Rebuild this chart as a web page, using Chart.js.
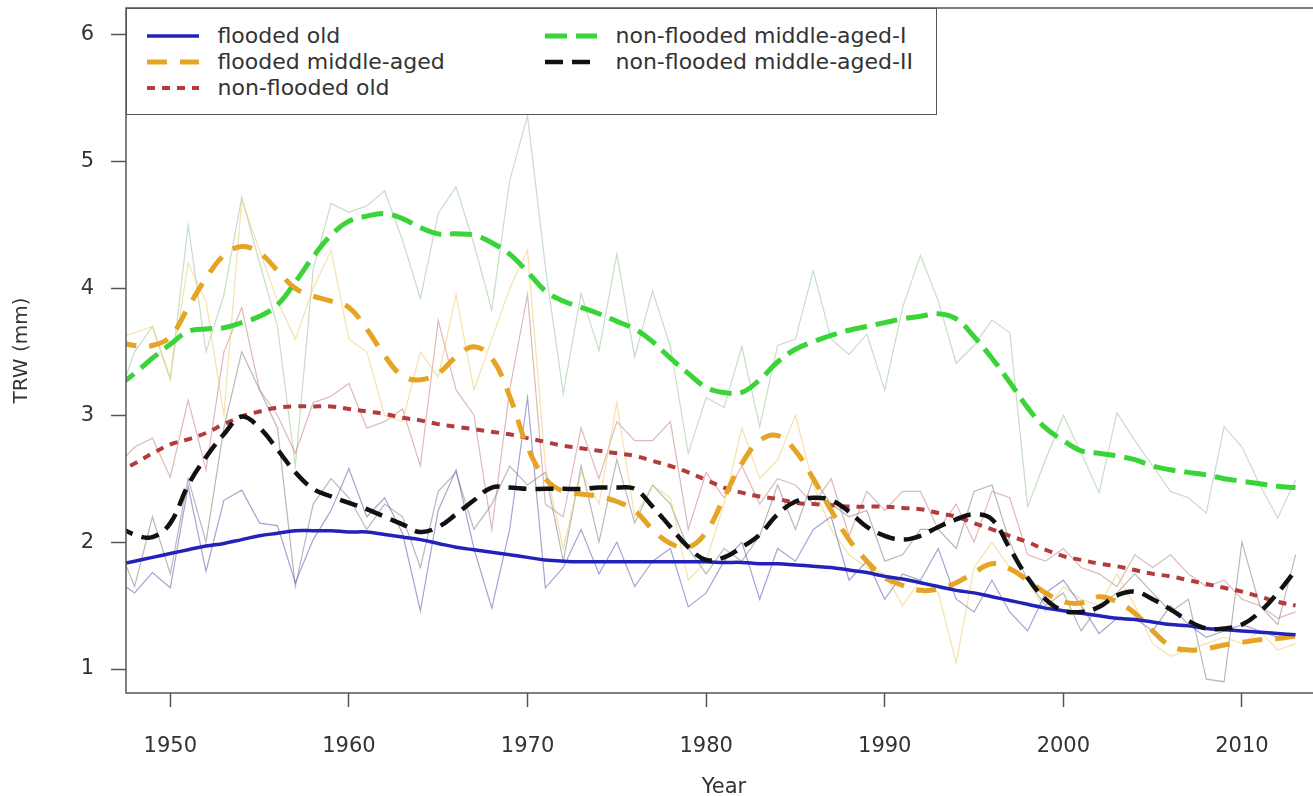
<!DOCTYPE html>
<html>
<head>
<meta charset="utf-8">
<script src="https://cdn.jsdelivr.net/npm/chart.js@4.4.1/dist/chart.umd.min.js"></script>
<style>
  html, body { margin: 0; padding: 0; overflow: hidden; background: #fff; }
  #wrap { position: relative; width: 1340px; height: 812px; }
  #legend { position: absolute; left: 126px; top: 8px; width: 811px; height: 107px; box-sizing: border-box;
            border: 1.5px solid #555; background: #fff; font-family: 'DejaVu Sans', sans-serif; font-size: 22px; color: #333; }
  .item { position: absolute; height: 26px; line-height: 26px; white-space: nowrap; }
  .item svg { position: absolute; left: 0; top: 0; }
  .item span { position: absolute; top: 0; }
</style>
</head>
<body>
<div id="wrap"><canvas id="c"></canvas><div id="legend"></div></div>
<script>
const years = [1947,1948,1949,1950,1951,1952,1953,1954,1955,1956,1957,1958,1959,1960,1961,1962,1963,1964,1965,1966,
  1967,1968,1969,1970,1971,1972,1973,1974,1975,1976,1977,1978,1979,1980,1981,1982,1983,1984,1985,1986,
  1987,1988,1989,1990,1991,1992,1993,1994,1995,1996,1997,1998,1999,2000,2001,2002,2003,2004,2005,2006,
  2007,2008,2009,2010,2011,2012,2013];

const xTicks = [1950, 1960, 1970, 1980, 1990, 2000, 2010];
const yTicks = [1, 2, 3, 4, 5, 6];

// smoothed series
const floodedOld = [1.82,1.85,1.88,1.91,1.94,1.97,1.99,2.02,2.05,2.07,
  2.09,2.09,2.09,2.08,2.08,2.06,2.04,2.02,1.99,1.96,
  1.94,1.92,1.90,1.88,1.86,1.85,1.845,1.845,1.845,1.845,
  1.845,1.845,1.845,1.845,1.84,1.84,1.83,1.83,1.82,1.81,
  1.80,1.78,1.76,1.73,1.71,1.68,1.65,1.62,1.60,1.57,
  1.54,1.51,1.48,1.46,1.44,1.42,1.40,1.39,1.37,1.35,
  1.34,1.32,1.31,1.30,1.29,1.28,1.27];
const floodedMid = [3.58,3.55,3.55,3.62,3.85,4.08,4.26,4.33,4.28,4.14,
  4.00,3.94,3.90,3.85,3.68,3.47,3.31,3.28,3.33,3.46,
  3.54,3.45,3.15,2.75,2.50,2.40,2.38,2.36,2.32,2.25,
  2.10,1.99,1.96,2.08,2.35,2.62,2.80,2.84,2.72,2.50,
  2.25,2.02,1.85,1.72,1.66,1.62,1.63,1.68,1.76,1.83,
  1.79,1.70,1.60,1.53,1.52,1.57,1.53,1.44,1.30,1.18,
  1.15,1.16,1.19,1.21,1.23,1.24,1.26];
const nonFloodedOld = [2.55,2.62,2.70,2.77,2.81,2.86,2.93,2.99,3.03,3.06,
  3.07,3.07,3.07,3.05,3.03,3.01,2.98,2.96,2.93,2.91,
  2.89,2.87,2.85,2.82,2.79,2.76,2.74,2.72,2.70,2.68,
  2.64,2.60,2.55,2.49,2.43,2.39,2.36,2.34,2.31,2.30,
  2.29,2.28,2.28,2.28,2.27,2.26,2.23,2.20,2.15,2.10,
  2.05,2.00,1.94,1.89,1.86,1.83,1.81,1.78,1.75,1.73,
  1.70,1.67,1.64,1.61,1.57,1.53,1.50];
const nonFloodedMidI = [3.22,3.33,3.45,3.56,3.66,3.68,3.69,3.73,3.78,3.87,
  4.05,4.25,4.42,4.53,4.57,4.59,4.55,4.48,4.43,4.43,
  4.42,4.36,4.27,4.13,3.98,3.90,3.85,3.80,3.74,3.68,
  3.58,3.45,3.33,3.22,3.18,3.18,3.28,3.42,3.52,3.58,
  3.63,3.67,3.70,3.73,3.76,3.78,3.80,3.76,3.62,3.45,
  3.26,3.06,2.90,2.80,2.72,2.70,2.68,2.65,2.60,2.57,
  2.55,2.53,2.50,2.48,2.46,2.44,2.43];
const nonFloodedMidII = [2.13,2.06,2.04,2.15,2.45,2.67,2.85,2.99,2.90,2.73,
  2.55,2.42,2.36,2.31,2.26,2.20,2.14,2.08,2.12,2.22,
  2.33,2.43,2.43,2.42,2.42,2.42,2.42,2.43,2.43,2.42,
  2.28,2.12,1.96,1.86,1.88,1.96,2.06,2.22,2.32,2.35,
  2.33,2.24,2.12,2.05,2.02,2.05,2.12,2.18,2.22,2.18,
  1.95,1.72,1.55,1.46,1.45,1.49,1.58,1.61,1.55,1.47,
  1.38,1.32,1.32,1.35,1.45,1.60,1.78];

// raw yearly series
const floodedOldRaw = [1.70,1.60,1.76,1.64,2.44,1.77,2.33,2.41,2.15,2.13,
  1.68,2.02,2.25,2.58,2.20,2.35,2.07,1.46,2.25,2.57,
  1.95,1.48,2.10,3.14,1.64,1.80,2.10,1.75,2.00,1.65,
  1.85,1.95,1.49,1.60,1.85,2.00,1.55,1.95,1.85,2.10,
  2.20,1.70,1.85,1.55,1.75,1.70,1.95,1.55,1.45,1.70,
  1.45,1.30,1.60,1.70,1.50,1.28,1.40,1.40,1.30,1.50,
  1.35,1.25,1.30,1.35,1.30,1.25,1.28];
const floodedMidRaw = [3.60,3.65,3.70,3.30,4.20,3.90,3.00,4.70,4.30,3.90,
  3.60,4.00,4.30,3.60,3.50,3.00,2.95,3.50,3.30,3.95,
  3.20,3.60,4.00,4.30,2.60,1.95,2.55,2.30,3.10,2.20,
  2.45,2.35,1.70,1.85,2.30,2.90,2.50,2.65,3.00,2.45,
  2.10,1.90,1.80,1.75,1.50,1.70,1.60,1.05,1.80,2.00,
  1.80,1.70,1.45,1.65,1.55,1.50,1.75,1.50,1.20,1.10,
  1.15,1.20,1.25,1.20,1.30,1.15,1.20];
const nonFloodedOldRaw = [2.60,2.75,2.82,2.51,3.12,2.57,3.50,3.85,3.20,3.00,
  2.70,3.10,3.15,3.25,2.90,2.95,3.05,2.60,3.75,3.20,
  3.00,2.10,3.20,3.95,2.30,2.20,2.90,2.50,2.95,2.80,
  2.80,2.95,2.10,2.55,2.35,2.60,2.30,2.50,2.45,2.30,
  2.50,2.05,2.40,2.25,2.40,2.40,2.10,2.30,2.00,2.40,
  2.35,1.90,1.85,1.95,1.80,1.75,1.65,1.90,1.80,1.90,
  1.75,1.65,1.70,1.55,1.50,1.40,1.45];
const nonFloodedMidIRaw = [3.10,3.50,3.70,3.28,4.50,3.50,3.95,4.72,4.20,3.70,
  2.60,4.15,4.67,4.60,4.65,4.77,4.38,3.92,4.59,4.80,
  4.35,3.83,4.85,5.36,4.17,3.17,3.96,3.51,4.27,3.46,
  3.98,3.54,2.70,3.14,3.06,3.54,2.91,3.55,3.60,4.14,
  3.60,3.48,3.64,3.20,3.85,4.26,3.90,3.41,3.55,3.75,
  3.65,2.28,2.65,3.00,2.70,2.39,3.02,2.80,2.60,2.40,
  2.35,2.23,2.91,2.75,2.45,2.19,2.49];
const nonFloodedMidIIRaw = [2.00,1.65,2.20,1.75,2.50,2.00,2.90,3.50,3.20,2.90,
  1.65,2.30,2.50,2.35,2.10,2.30,2.20,1.80,2.40,2.55,
  2.10,2.30,2.60,2.45,2.55,1.85,2.60,2.00,2.65,2.15,
  2.45,2.30,1.95,1.75,1.95,1.85,2.05,2.45,2.10,2.50,
  2.30,2.20,2.25,1.85,1.90,2.10,2.10,1.95,2.40,2.45,
  2.00,1.70,1.50,1.60,1.30,1.50,1.60,1.75,1.60,1.45,
  1.55,0.92,0.90,2.00,1.50,1.35,1.90];

const FONT = "'DejaVu Sans', sans-serif";
const pts = arr => years.map((yr, i) => ({ x: yr, y: arr[i] }));

const styles = {
  fo:   { color: '#2222bb', width: 3.5, dash: [] },
  fm:   { color: '#e6a424', width: 5,   dash: [20, 13] },
  nfo:  { color: '#b23c3c', width: 4,   dash: [8, 7] },
  nfm1: { color: '#38d438', width: 5,   dash: [22, 9] },
  nfm2: { color: '#111111', width: 4.5, dash: [18, 9] }
};

function raw(label, arr, color, order) {
  return { label, data: pts(arr), borderColor: color, borderWidth: 1.2, pointRadius: 0, tension: 0, order, clip: 0 };
}
function smooth(label, arr, st, order) {
  return { label, data: pts(arr), borderColor: st.color, borderWidth: st.width, borderDash: st.dash,
           pointRadius: 0, tension: 0.4, order, clip: 0, borderCapStyle: 'butt' };
}

const boxPlugin = {
  id: 'box',
  afterDatasetsDraw(chart) {
    const { ctx, chartArea: a } = chart;
    ctx.save();
    ctx.strokeStyle = '#555';
    ctx.lineWidth = 1.5;
    ctx.strokeRect(a.left, a.top, a.right - a.left, a.bottom - a.top);
    ctx.restore();
  }
};

new Chart(document.getElementById('c'), {
  type: 'line',
  data: {
    datasets: [
      raw('flooded old (yearly)', floodedOldRaw, 'rgba(90,90,175,0.55)', 20),
      raw('flooded middle-aged (yearly)', floodedMidRaw, 'rgba(238,205,110,0.6)', 21),
      raw('non-flooded old (yearly)', nonFloodedOldRaw, 'rgba(190,115,115,0.5)', 22),
      raw('non-flooded middle-aged-I (yearly)', nonFloodedMidIRaw, 'rgba(150,195,150,0.55)', 23),
      raw('non-flooded middle-aged-II (yearly)', nonFloodedMidIIRaw, 'rgba(125,125,125,0.55)', 24),
      smooth('flooded old', floodedOld, styles.fo, 2),
      smooth('flooded middle-aged', floodedMid, styles.fm, 4),
      smooth('non-flooded old', nonFloodedOld, styles.nfo, 5),
      smooth('non-flooded middle-aged-I', nonFloodedMidI, styles.nfm1, 3),
      smooth('non-flooded middle-aged-II', nonFloodedMidII, styles.nfm2, 1)
    ]
  },
  options: {
    responsive: true,
    maintainAspectRatio: false,
    animation: false,
    layout: { padding: { top: 8, right: 18, left: 0, bottom: 0 } },
    plugins: { legend: { display: false }, tooltip: { enabled: false } },
    scales: {
      x: {
        type: 'linear', min: 1947.52, max: 2014.48,
        afterBuildTicks: ax => { ax.ticks = xTicks.map(v => ({ value: v })); },
        afterFit: ax => { ax.height = 812 - 693; ax.paddingLeft = 0; ax.paddingRight = 0; },
        grid: { drawOnChartArea: false, drawTicks: true, tickLength: 14, tickColor: '#555', tickWidth: 1.5 },
        border: { display: false },
        ticks: { font: { family: FONT, size: 21 }, color: '#333', padding: 27, maxRotation: 0, autoSkip: false,
                 callback: v => String(v) },
        title: { display: true, text: 'Year', font: { family: FONT, size: 21 }, color: '#333',
                 padding: { top: 0, bottom: 12 } }
      },
      y: {
        type: 'linear', min: 0.811, max: 6.21,
        afterBuildTicks: ax => { ax.ticks = yTicks.map(v => ({ value: v })); },
        afterFit: ax => { ax.width = 126; ax.paddingTop = 0; ax.paddingBottom = 0; },
        grid: { drawOnChartArea: false, drawTicks: true, tickLength: 15, tickColor: '#555', tickWidth: 1.5 },
        border: { display: false },
        ticks: { font: { family: FONT, size: 21 }, color: '#333', padding: 17, callback: v => String(v) },
        title: { display: true, text: 'TRW (mm)', font: { family: FONT, size: 20 }, color: '#333',
                 padding: { top: 10, bottom: 0 } }
      }
    }
  },
  plugins: [boxPlugin]
});

// legend (HTML)
const legendItems = [
  { text: 'flooded old', st: styles.fo, col: 0, row: 0 },
  { text: 'flooded middle-aged', st: styles.fm, col: 0, row: 1 },
  { text: 'non-flooded old', st: styles.nfo, col: 0, row: 2 },
  { text: 'non-flooded middle-aged-I', st: styles.nfm1, col: 1, row: 0 },
  { text: 'non-flooded middle-aged-II', st: styles.nfm2, col: 1, row: 1 }
];
const colX = [19.5, 417.5];
const rowY = [13.5, 39.5, 65.5];
const leg = document.getElementById('legend');
legendItems.forEach(it => {
  const d = document.createElement('div');
  d.className = 'item';
  d.style.left = colX[it.col] + 'px';
  d.style.top = rowY[it.row] + 'px';
  const dash = it.st.dash.length ? it.st.dash.join(' ') : 'none';
  d.innerHTML = '<svg width="54" height="26"><line x1="0" y1="13" x2="52" y2="13" stroke="' + it.st.color +
    '" stroke-width="' + it.st.width + '" stroke-dasharray="' + dash + '"/></svg><span style="left:71px">' +
    it.text + '</span>';
  leg.appendChild(d);
});
</script>
</body>
</html>
